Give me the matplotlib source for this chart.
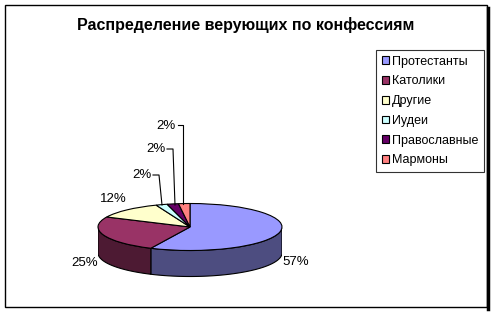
import numpy as np
import matplotlib
matplotlib.use('Agg')
import matplotlib.pyplot as plt
from matplotlib.patches import Polygon, Rectangle

plt.rcParams['font.family'] = ['Liberation Sans', 'DejaVu Sans']

title = 'Распределение верующих по конфессиям'
labels = ['Протестанты', 'Католики', 'Другие', 'Иудеи', 'Православные', 'Мармоны']
values = [57, 25, 12, 2, 2, 2]
top_colors = ['#9999FF', '#993366', '#FFFFCC', '#CCFFFF', '#660066', '#FF8080']
side_colors = ['#4D4D80', '#4D1A33', '#808066', '#668080', '#330033', '#804040']

W, H = 492, 312
fig = plt.figure(figsize=(W / 100, H / 100), dpi=100)

# pie axes: ellipse centre at (190, 227) px, a=92, b=23.5, depth 26 px
cx, cy, a, b = 190, 227, 92, 23.5
top_px, bot_px = 190, 290
pie_ax = fig.add_axes([(cx - a) / W, (H - bot_px) / H, 2 * a / W, (bot_px - top_px) / H])
wedges, _ = pie_ax.pie(values, colors=top_colors, startangle=90, counterclock=False,
                       wedgeprops=dict(edgecolor='black', linewidth=0.8))
pie_ax.set_aspect('auto')
pie_ax.set_xlim(-1, 1)
pie_ax.set_ylim(-(bot_px - cy) / b, (cy - top_px) / b)
pie_ax.axis('off')
depth = 26 / b

# side walls of the front half
for w, sc in zip(wedges, side_colors):
    t = np.radians(np.linspace(w.theta1, w.theta2, 300))
    m = np.sin(t) <= 0
    if m.sum() < 2:
        continue
    t = t[m]
    xs, ys = np.cos(t), np.sin(t)
    pts = np.vstack([np.column_stack([xs, ys]),
                     np.column_stack([xs[::-1], ys[::-1] - depth])])
    pie_ax.add_patch(Polygon(pts, closed=True, facecolor=sc, edgecolor='black',
                             linewidth=0.8, zorder=0))
for w in wedges:
    w.set_zorder(2)

# overlay in pixel coords for text, leaders and frame
ov = fig.add_axes([0, 0, 1, 1])
ov.set_xlim(0, W)
ov.set_ylim(H, 0)
ov.axis('off')
ov.add_patch(Rectangle((5, 5), 482, 302, fill=False, edgecolor='black', linewidth=1))
ov.plot([488, 488], [8, 309], color='black', linewidth=2.5)

ov.text(246, 25, title, ha='center', va='center', fontsize=11.5, fontweight='bold')

pct = ['%d%%' % v for v in values]
label_pos = [(296, 262), (85, 263), (113, 199), (142, 175), (156, 149), (166, 126)]
for s, (x, y) in zip(pct, label_pos):
    ov.text(x, y, s, ha='center', va='center', fontsize=9.5)

leaders = [[(153, 175), (159, 175), (162, 205)],
           [(167, 149), (173, 149), (175, 205)],
           [(178, 125), (183, 125), (183, 204)]]
for ln in leaders:
    xs, ys = zip(*ln)
    ov.plot(xs, ys, color='black', linewidth=0.8)

leg = ov.legend(wedges, labels, loc='upper left',
                bbox_to_anchor=(376 / W, 1 - 50 / H), bbox_transform=fig.transFigure,
                borderaxespad=0, fontsize=9, frameon=True, fancybox=False,
                handlelength=0.6, handleheight=0.6, handletextpad=0.2,
                labelspacing=0.62, borderpad=0.45)
leg.get_frame().set_edgecolor('black')
leg.get_frame().set_linewidth(0.8)

fig.savefig('out.png', dpi=100)
